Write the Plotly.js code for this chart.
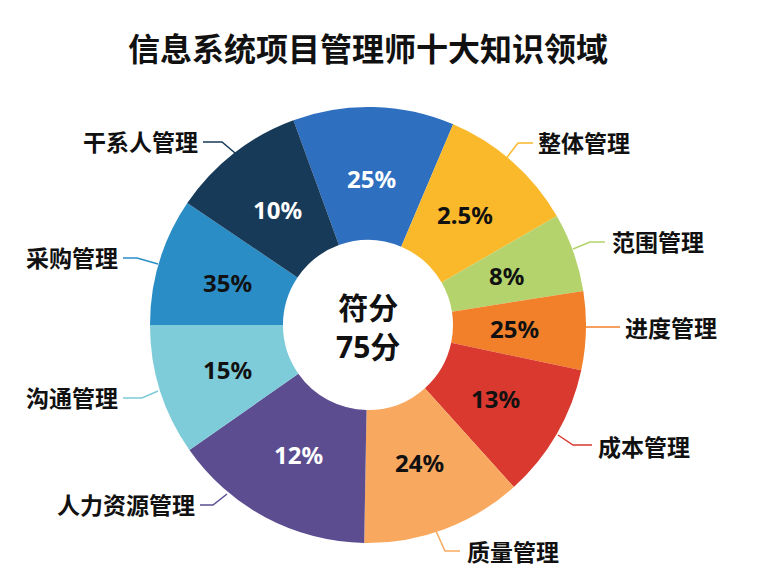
<!DOCTYPE html>
<html>
<head>
<meta charset="utf-8">
<script src="https://cdn.plot.ly/plotly-3.0.1.min.js"></script>
<style>html,body{margin:0;padding:0;background:#fff;}#chart{width:769px;height:580px;}</style>
</head>
<body>
<div id="chart"></div>
<script>
// ---- data ----
const categories = ["风险管理","整体管理","范围管理","进度管理","成本管理","质量管理","人力资源管理","沟通管理","采购管理","干系人管理"];
// slice sizes as drawn (degrees of arc, clockwise from the top-left start)
const sliceSizes = [43, 37, 21, 21, 36, 43, 54, 35, 34, 36];
// percentage texts printed in each slice
const pctLabels = ["25%","2.5%","8%","25%","13%","24%","12%","15%","35%","10%"];
// which categories carry an outside label
const outsideLabels = ["干系人管理","整体管理","范围管理","进度管理","成本管理","质量管理","人力资源管理","沟通管理","采购管理"];
const centerLines = ["符分","75分"];
const titleText = "信息系统项目管理师十大知识领域";

// ---- styles ----
const colors = ["#2f6fbf","#fab92b","#b4d36c","#f2802b","#d9392f","#f9a95f","#5c4d91","#7ecbd9","#2b8dc6","#173a58"];
const textColors = ["#ffffff","#111111","#111111","#111111","#111111","#111111","#ffffff","#111111","#111111","#ffffff"];
const FONT = '"Noto Sans", "Noto Sans CJK SC", sans-serif';

const W = 769, H = 580;
const cx = 368, cy = 325, R = 218, TEXT_R = 147;
const ROTATION = -20;
const px = x => x / W, py = y => 1 - y / H;

// label layout (pixel positions of text and leader lines)
const labelLayout = {
  "干系人管理":   {x:200, y:142, anchor:"right", line:[[203,142],[222,142],[235,153]]},
  "整体管理":     {x:536, y:143, anchor:"left",  line:[[533,143],[518,143],[505,160]]},
  "范围管理":     {x:610, y:242, anchor:"left",  line:[[605,242],[590,242],[573,249]]},
  "进度管理":     {x:623, y:328, anchor:"left",  line:[[620,327],[586,327]]},
  "成本管理":     {x:596, y:447, anchor:"left",  line:[[592,445],[573,445],[558,435]]},
  "质量管理":     {x:465, y:552, anchor:"left",  line:[[460,551],[445,551],[436,531]]},
  "人力资源管理": {x:197, y:505, anchor:"right", line:[[200,505],[213,505],[227,494]]},
  "沟通管理":     {x:120, y:398, anchor:"right", line:[[123,398],[142,398],[158,391]]},
  "采购管理":     {x:120, y:258, anchor:"right", line:[[123,258],[137,258],[158,264]]}
};

const trace = {
  type: "pie",
  labels: categories,
  values: sliceSizes,
  text: pctLabels,
  textinfo: "none",
  sort: false,
  direction: "clockwise",
  rotation: ROTATION,
  hole: 0.39,
  marker: {colors: colors, line: {width: 0}},
  domain: {x: [px(cx - R), px(cx + R)], y: [py(cy + R), py(cy - R)]},
  hoverinfo: "label+text",
  showlegend: false
};

const annotations = [];
const shapes = [];

// percentage texts placed at each slice's mid-angle (derived from the values)
const total = sliceSizes.reduce((a, b) => a + b, 0);
let acc = 0;
sliceSizes.forEach((v, i) => {
  const mid = (ROTATION + (acc + v / 2) / total * 360) * Math.PI / 180;
  acc += v;
  const x = cx + TEXT_R * Math.sin(mid), y = cy - TEXT_R * Math.cos(mid);
  annotations.push({
    xref: "paper", yref: "paper", x: px(x), y: py(y), xanchor: "center", yanchor: "middle",
    showarrow: false, text: pctLabels[i],
    font: {family: FONT, size: 24, color: textColors[i], weight: "bold"}
  });
});

outsideLabels.forEach(name => {
  const i = categories.indexOf(name);
  const L = labelLayout[name];
  annotations.push({
    xref: "paper", yref: "paper", x: px(L.x), y: py(L.y),
    xanchor: L.anchor, yanchor: "middle", showarrow: false,
    text: name, font: {family: FONT, size: 23, color: "#111111", weight: "bold"}
  });
  const d = L.line.map((p, k) => (k ? "L" : "M") + px(p[0]) + "," + py(p[1])).join(" ");
  shapes.push({type: "path", xref: "paper", yref: "paper", path: d,
    line: {color: colors[i], width: 1.5}});
});
// centre text
annotations.push({xref:"paper", yref:"paper", x: px(cx), y: py(327), xanchor:"center", yanchor:"middle",
  showarrow:false, text: centerLines.join("<br>"), font:{family: FONT, size: 30, color:"#111111", weight:"bold"}});

const layout = {
  width: W, height: H,
  margin: {l: 0, r: 0, t: 0, b: 0},
  paper_bgcolor: "#ffffff",
  title: {text: titleText, x: px(368), xanchor: "center", y: py(50), yanchor: "middle",
    font: {family: FONT, size: 32, color: "#111111", weight: "bold"}},
  annotations: annotations,
  shapes: shapes,
  showlegend: false
};

Plotly.newPlot("chart", [trace], layout, {displayModeBar: false, staticPlot: true});
</script>
</body>
</html>
